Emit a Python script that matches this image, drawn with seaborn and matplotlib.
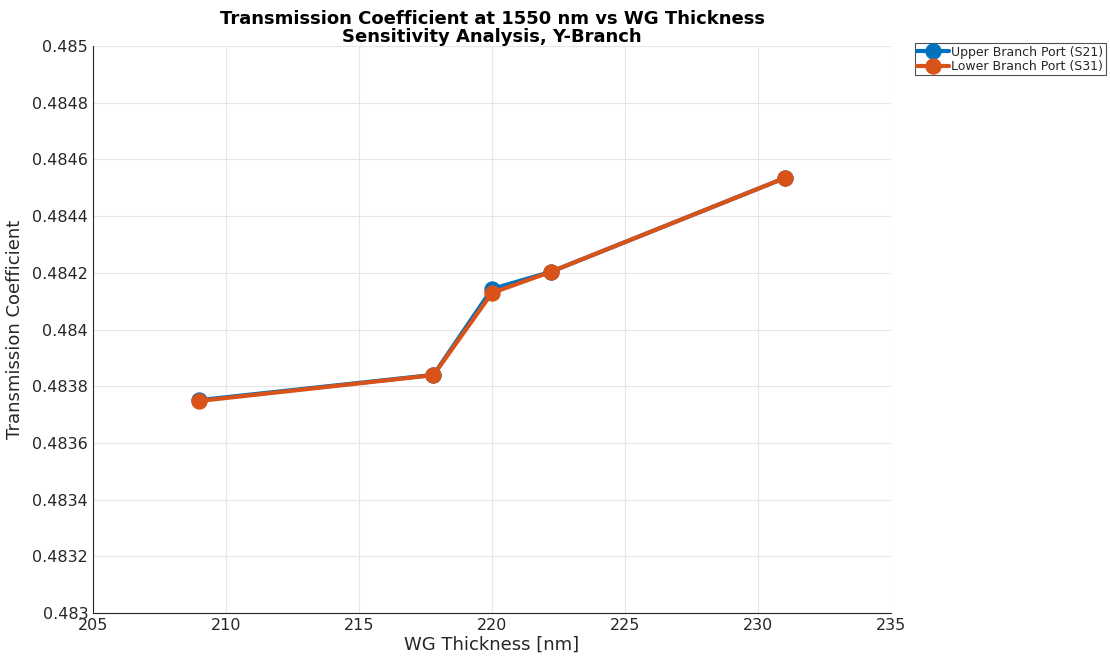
import matplotlib
matplotlib.use("Agg")
import matplotlib.pyplot as plt
import seaborn as sns
import pandas as pd
from matplotlib.ticker import FuncFormatter

thickness = [209.0, 217.8, 220.0, 222.2, 231.0]
s21 = [0.483751, 0.483840, 0.484143, 0.484203, 0.484534]
s31 = [0.483748, 0.483839, 0.484129, 0.484203, 0.484534]
labels = ["Upper Branch Port (S21)", "Lower Branch Port (S31)"]
colors = ["#0072BD", "#D95319"]

df = pd.concat([
    pd.DataFrame({"x": thickness, "y": s21, "series": labels[0]}),
    pd.DataFrame({"x": thickness, "y": s31, "series": labels[1]}),
])

sns.set_style("whitegrid")
plt.rcParams["font.family"] = ["DejaVu Sans"]

fig = plt.figure(figsize=(11.1, 6.63), dpi=100)
ax = fig.add_axes([93/1110, 1 - 613/663, (891-93)/1110, (613-46)/663])

for lab, col in zip(labels, colors):
    sub = df[df.series == lab]
    sns.lineplot(data=sub, x="x", y="y", ax=ax, color=col, linewidth=3,
                 marker="o", markersize=11, markeredgecolor=col, label=lab,
                 sort=False, estimator=None)

ax.set_xlim(205, 235)
ax.set_ylim(0.483, 0.485)
ax.set_xticks([205, 210, 215, 220, 225, 230, 235])
ax.set_yticks([0.483 + 0.0002 * i for i in range(11)])
ax.yaxis.set_major_formatter(FuncFormatter(lambda v, p: f"{v:.4f}".rstrip("0").rstrip(".")))
ax.tick_params(axis="both", labelsize=11.5, colors="#262626", length=4, direction="in")
ax.grid(True, color="#e6e6e6", linewidth=0.8)
for s in ["left", "bottom"]:
    ax.spines[s].set_color("#262626")
    ax.spines[s].set_linewidth(0.8)
for s in ["top", "right"]:
    ax.spines[s].set_visible(False)

ax.set_xlabel("WG Thickness [nm]", fontsize=13, color="#262626", labelpad=2)
ax.set_ylabel("Transmission Coefficient", fontsize=13, color="#262626", labelpad=6)
ax.set_title("Transmission Coefficient at 1550 nm vs WG Thickness\nSensitivity Analysis, Y-Branch",
             fontsize=13, fontweight="bold", linespacing=1.0, pad=3, color="black")

leg = ax.legend(loc="upper left", bbox_to_anchor=(1.03, 1.005), fontsize=9,
                frameon=True, fancybox=False, borderpad=0.2, handlelength=2.5,
                handletextpad=0.2, labelspacing=0.1, borderaxespad=0)
leg.get_frame().set_edgecolor("#262626")
leg.get_frame().set_linewidth(0.8)

fig.savefig("out.png", dpi=100)
